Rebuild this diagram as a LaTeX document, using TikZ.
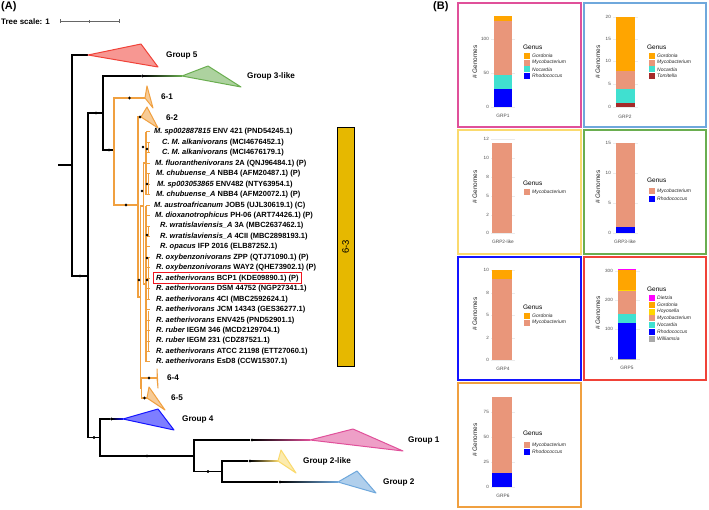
\documentclass[tikz,border=0pt]{standalone}
\usepackage{fontspec}
\setmainfont{Liberation Sans}
\usepackage{tikz}
\usetikzlibrary{positioning,fit}
\definecolor{grpred}{RGB}{240,66,56}
\definecolor{grpgreen}{RGB}{106,174,80}
\definecolor{grporange}{RGB}{240,160,64}
\definecolor{grpblue}{RGB}{20,20,255}
\definecolor{grppink}{RGB}{224,80,154}
\definecolor{grpyellow}{RGB}{250,218,110}
\definecolor{grpsky}{RGB}{111,168,220}
\definecolor{barbox}{RGB}{230,184,0}
\definecolor{hibox}{RGB}{240,20,30}
\definecolor{gordonia}{RGB}{255,165,0}
\definecolor{mycobact}{RGB}{233,150,122}
\definecolor{nocardia}{RGB}{64,224,208}
\definecolor{rhodococ}{RGB}{0,0,255}
\definecolor{tomitella}{RGB}{165,42,42}
\definecolor{dietzia}{RGB}{255,0,255}
\definecolor{hoyosella}{RGB}{255,215,0}
\definecolor{williams}{RGB}{169,169,169}

\begin{document}
\begin{tikzpicture}[x=1bp,y=-1bp,
    branch/.style={line width=1.3bp},
    obranch/.style={branch,draw=grporange},
    clade/.style={draw=#1,fill=#1!55,line width=1bp,line join=round},
    knot/.style={circle,fill=black,inner sep=0pt,minimum size=2.8bp},
    grplab/.style={font=\fontsize{8.2}{9}\selectfont\bfseries,anchor=west,inner sep=0pt},
    leaflab/.style={font=\fontsize{7.5}{9}\selectfont\bfseries,anchor=west,inner sep=0pt},
    hilite/.style={draw=hibox,line width=1.3bp,fill=none,inner xsep=2.5bp,inner ysep=1.8bp},
    panel/.style={draw=#1,line width=2bp},
    ylab/.style={font=\fontsize{6.5}{7}\selectfont,rotate=90,text=black!85},
    ticklab/.style={font=\fontsize{4.6}{5}\selectfont,text=black!70,anchor=east,inner sep=0pt},
    xlab/.style={font=\fontsize{4.8}{5}\selectfont,text=black!70,inner sep=0pt},
    gtitle/.style={font=\fontsize{6.5}{7}\selectfont,anchor=west,inner sep=0pt},
    glab/.style={font=\fontsize{5}{6}\selectfont\itshape,anchor=west,inner sep=0pt,text=black!85},
    gridln/.style={draw=black!8,line width=0.4bp}]
  \useasboundingbox (0,0) rectangle (709,510);

  \node[font=\fontsize{11}{12}\selectfont\bfseries,anchor=west,inner sep=0pt] (hA) at (1,7) {(A)};
  \node[font=\fontsize{8}{9}\selectfont\bfseries,anchor=west,inner sep=0pt] (scl) at (1,21.5) {Tree scale: 1};
  \coordinate (s0) at (60,21.5);
  \coordinate (sm) at (89.5,21.5);
  \coordinate (s1) at (119,21.5);
  \draw[black!60,line width=0.6bp] (s0) -- (s1)
    (s0) ++(0,-2) -- ++(0,4) (s1) ++(0,-2) -- ++(0,4) (sm) ++(0,-1.5) -- ++(0,3);

  % tree
  \coordinate (stem) at (58,165);
  \coordinate (root) at (72,165);
  \coordinate (nA) at (88,276);
  \coordinate (nB) at (103,113);
  \coordinate (nC) at (100,437.5);
  \coordinate (nD) at (194,456);
  \coordinate (nE) at (222,471.5);
  \coordinate (nO) at (114,150);
  \coordinate (nP) at (138,205);
  \coordinate (nQ) at (140.5,297);
  \coordinate (nS) at (141.5,388);
  \coordinate (n6a) at (146,163);
  \coordinate (n6b) at (146,284);
  \coordinate (n63) at (143.5,206);
  \coordinate (g5) at (88,55);
  \coordinate (g3) at (182,76);
  \coordinate (g4) at (123,419);
  \coordinate (g1) at (310,440);
  \coordinate (g2l) at (278,461);
  \coordinate (g2) at (338,482);
  \coordinate (n61) at (145,98);
  \coordinate (n62) at (141,117);
  \coordinate (n64) at (157,378);
  \coordinate (n65) at (147,398);

  \node[knot] (dA) at (80,276) {};
  \node[knot] (d3) at (142.5,76) {};
  \node[knot] (dB) at (96,113) {};
  \node[knot] (dO) at (109,150) {};
  \node[knot] (dC) at (94,437.5) {};
  \node[knot] (d4) at (111.5,419) {};
  \node[knot] (dD) at (147,456) {};
  \node[knot] (d1) at (252,440) {};
  \node[knot] (dE) at (208,471.5) {};
  \node[knot] (d2l) at (250,461) {};
  \node[knot] (d2) at (280,482) {};
  \node[knot] (d61) at (129.5,98) {};
  \node[knot] (dP) at (126,205) {};
  \node[knot] (d62) at (140,117) {};
  \node[knot] (d64) at (149,378) {};
  \node[knot] (d65) at (144.5,398) {};

  \draw[branch] (stem) -- (root);
  \draw[branch] (root) |- (g5);
  \draw[branch] (root) |- (nA);
  \draw[branch] (nA) |- (nB);
  \draw[branch] (nA) |- (nC);
  \draw[branch] (nB) |- (d3);
  \draw[branch] (nB) |- (nO);
  \draw[branch] (nC) |- (d4);
  \draw[branch] (nC) |- (nD);
  \draw[branch] (nD) |- (d1);
  \draw[branch] (nD) |- (nE);
  \draw[branch] (nE) |- (d2l);
  \draw[branch] (nE) |- (d2);
  \shade[left color=black,right color=grpgreen] ([yshift=-0.65bp]d3.center) rectangle ([yshift=0.65bp]g3);
  \shade[left color=black,right color=grpblue] ([yshift=-0.65bp]d4.center) rectangle ([yshift=0.65bp]g4);
  \shade[left color=black,right color=grppink] ([yshift=-0.65bp]d1.center) rectangle ([yshift=0.65bp]g1);
  \shade[left color=black,right color=grpyellow] ([yshift=-0.65bp]d2l.center) rectangle ([yshift=0.65bp]g2l);
  \shade[left color=black,right color=grpsky] ([yshift=-0.65bp]d2.center) rectangle ([yshift=0.65bp]g2);

  \draw[obranch] (nO) |- (n61);
  \draw[obranch] (nO) |- (nP);
  \draw[obranch] (nP) |- (n62);
  \draw[obranch] (nP) |- (nQ);
  \draw[obranch] (nQ) |- (n63);
  \draw[obranch] (nQ) |- (nS);
  \draw[obranch] (nS) |- (n64);
  \draw[obranch] (nS) |- (n65);
  \draw[obranch] (n63) |- (n6a);
  \draw[obranch] (n63) |- (n6b);
  \draw[obranch] (146,132) -- (146,195) (146,206) -- (146,362);
  \draw[obranch,line width=1bp] (148.5,143) -- (148.5,153) (148.5,174) -- (148.5,195)
    (148.5,227) -- (148.5,237) (148.5,258) -- (148.5,300) (148.5,311) -- (148.5,352);
  \foreach \i in {1,...,23}
    \draw[obranch,line width=1bp] (146,121.55+10.45*\i) -- (150,121.55+10.45*\i);

  \filldraw[clade=grpred] (g5) -- (141,44) -- (158,67) -- cycle;
  \filldraw[clade=grpgreen] (g3) -- (208,66) -- (241,87) -- cycle;
  \filldraw[clade=grpblue] (g4) -- (158,409) -- (174,430) -- cycle;
  \filldraw[clade=grppink] (g1) -- (353,429) -- (403,451) -- cycle;
  \filldraw[clade=grpyellow] (g2l) -- (281,450) -- (296,473) -- cycle;
  \filldraw[clade=grpsky] (g2) -- (357,471) -- (376,493) -- cycle;
  \filldraw[clade=grporange] (n61) -- (147,86) -- (153,108) -- cycle;
  \filldraw[clade=grporange] (n62) -- (147,107) -- (158,128) -- cycle;
  \filldraw[clade=grporange] (n64) -- (157,369) -- (158,388) -- cycle;
  \filldraw[clade=grporange] (n65) -- (149,387) -- (165,410) -- cycle;

  \foreach \k in {dA,d3,dB,dO,dC,d4,dD,d1,dE,d2l,d2,d61,dP,d62,d64,d65}
    \fill (\k) circle (1.4bp);
  \foreach \x/\y in {143/147,147/149,147/184,142/191,147/235,147/258,139/280,147/280}
    \fill (\x,\y) circle (1.3bp);

  \node[grplab] (l5) at (166,55) {Group 5};
  \node[grplab] (l3) at (247,76) {Group 3-like};
  \node[grplab] (l61) at (161,97) {6-1};
  \node[grplab] (l62) at (166,118) {6-2};
  \node[grplab] (l64) at (167,378) {6-4};
  \node[grplab] (l65) at (171,398) {6-5};
  \node[grplab] (l4) at (182,419) {Group 4};
  \node[grplab] (l1) at (408,440) {Group 1};
  \node[grplab] (l2l) at (303,461) {Group 2-like};
  \node[grplab] (l2) at (383,482) {Group 2};

  \foreach \sp/\rest/\lx [count=\i] in {
      {M. sp002887815}/{ENV 421 (PND54245.1)}/154,
      {C. M. alkanivorans}/{(MCI4676452.1)}/162,
      {C. M. alkanivorans}/{(MCI4676179.1)}/162,
      {M. fluoranthenivorans}/{2A (QNJ96484.1) (P)}/155,
      {M. chubuense\_A}/{NBB4 (AFM20487.1) (P)}/156,
      {M. sp003053865}/{ENV482 (NTY63954.1)}/157,
      {M. chubuense\_A}/{NBB4 (AFM20072.1) (P)}/156,
      {M. austroafricanum}/{JOB5 (UJL30619.1) (C)}/154,
      {M. dioxanotrophicus}/{PH-06 (ART74426.1) (P)}/155,
      {R. wratislaviensis\_A}/{3A (MBC2637462.1)}/160,
      {R. wratislaviensis\_A}/{4CII (MBC2898193.1)}/160,
      {R. opacus}/{IFP 2016 (ELB87252.1)}/160,
      {R. oxybenzonivorans}/{ZPP (QTJ71090.1) (P)}/156,
      {R. oxybenzonivorans}/{WAY2 (QHE73902.1) (P)}/156,
      {R. aetherivorans}/{BCP1 (KDE09890.1) (P)}/156,
      {R. aetherivorans}/{DSM 44752 (NGP27341.1)}/156,
      {R. aetherivorans}/{4CI (MBC2592624.1)}/156,
      {R. aetherivorans}/{JCM 14343 (GES36277.1)}/156,
      {R. aetherivorans}/{ENV425 (PND52901.1)}/156,
      {R. ruber}/{IEGM 346 (MCD2129704.1)}/156,
      {R. ruber}/{IEGM 231 (CDZ87521.1)}/156,
      {R. aetherivorans}/{ATCC 21198 (ETT27060.1)}/156,
      {R. aetherivorans}/{EsD8 (CCW15307.1)}/156}
    \node[leaflab] (leaf\i) at (\lx,121.55+10.45*\i) {{\itshape\sp} \rest};
  \node[hilite,fit=(leaf15)] (box15) {};

  \node[draw=black,fill=barbox,line width=0.8bp,minimum width=17bp,minimum height=239bp,inner sep=0pt] (b63) at (345.5,247) {};
  \node[rotate=90,font=\fontsize{9.5}{10}\selectfont] (t63) at (b63.center) {6-3};

  % panels
  \node[font=\fontsize{11}{12}\selectfont\bfseries,anchor=west,inner sep=0pt] (hB) at (433,7) {(B)};

  \draw[panel=grppink] (458,3) rectangle (581,127);
  \foreach \v/\y in {0/107,50/73,100/39} {
    \draw[gridln] (491,\y) -- (515,\y);
    \node[ticklab] (ta\v) at (489,\y) {\v};}
  \foreach \a/\b/\c in {107/89/rhodococ,89/75/nocardia,75/21/mycobact,21/16/gordonia}
    \fill[\c] (494,\a) rectangle (512,\b);
  \node[ylab] (ya) at (475,62) {\# Genomes};
  \node[xlab] (xa) at (503,116) {GRP1};
  \node[gtitle] (ga) at (523,47) {Genus};
  \foreach \c/\t [count=\k] in {gordonia/Gordonia,mycobact/Mycobacterium,nocardia/Nocardia,rhodococ/Rhodococcus} {
    \fill[\c] (524,46.3+6.7*\k) rectangle (530,52.3+6.7*\k);
    \node[glab] (ka\k) at (532,49.3+6.7*\k) {\t};}

  \draw[panel=grpsky] (584,3) rectangle (706,127);
  \foreach \v/\y in {0/107,5/84,10/61,15/39,20/17} {
    \draw[gridln] (613,\y) -- (638,\y);
    \node[ticklab] (tb\v) at (611,\y) {\v};}
  \foreach \a/\b/\c in {107/103/tomitella,103/89/nocardia,89/71/mycobact,71/17/gordonia}
    \fill[\c] (616,\a) rectangle (635,\b);
  \node[ylab] (yb) at (598,62) {\# Genomes};
  \node[xlab] (xb) at (625,117) {GRP2};
  \node[gtitle] (gb) at (647,47) {Genus};
  \foreach \c/\t [count=\k] in {gordonia/Gordonia,mycobact/Mycobacterium,nocardia/Nocardia,tomitella/Tomitella} {
    \fill[\c] (649,46.3+6.7*\k) rectangle (655,52.3+6.7*\k);
    \node[glab] (kb\k) at (657,49.3+6.7*\k) {\t};}

  \draw[panel=grpyellow] (458,130) rectangle (581,254);
  \foreach \v/\y in {0/233,2/215,5/196,8/177,10/158,12/139} {
    \draw[gridln] (491,\y) -- (515,\y);
    \node[ticklab] (tc\v) at (489,\y) {\v};}
  \fill[mycobact] (492,233) rectangle (512,143);
  \node[ylab] (yc) at (475,187) {\# Genomes};
  \node[xlab] (xc) at (503,242) {GRP2-like};
  \node[gtitle] (gc) at (523,183) {Genus};
  \fill[mycobact] (524,189) rectangle (530,195);
  \node[glab] (kc1) at (532,192) {Mycobacterium};

  \draw[panel=grpgreen] (584,130) rectangle (706,254);
  \foreach \v/\y in {0/233,5/203,10/173,15/143} {
    \draw[gridln] (613,\y) -- (638,\y);
    \node[ticklab] (td\v) at (611,\y) {\v};}
  \fill[rhodococ] (616,233) rectangle (635,227);
  \fill[mycobact] (616,227) rectangle (635,143);
  \node[ylab] (yd) at (598,187) {\# Genomes};
  \node[xlab] (xd) at (625,242) {GRP3-like};
  \node[gtitle] (gd) at (647,180) {Genus};
  \foreach \c/\t [count=\k] in {mycobact/Mycobacterium,rhodococ/Rhodococcus} {
    \fill[\c] (649,181+7.5*\k) rectangle (655,187+7.5*\k);
    \node[glab] (kd\k) at (657,184+7.5*\k) {\t};}

  \draw[panel=grpblue] (458,257) rectangle (581,380);
  \foreach \v/\y in {0/360,2/338,5/315,8/293,10/270} {
    \draw[gridln] (491,\y) -- (515,\y);
    \node[ticklab] (te\v) at (489,\y) {\v};}
  \fill[mycobact] (492,360) rectangle (512,279);
  \fill[gordonia] (492,279) rectangle (512,270);
  \node[ylab] (ye) at (475,314) {\# Genomes};
  \node[xlab] (xe) at (503,369) {GRP4};
  \node[gtitle] (ge) at (523,307) {Genus};
  \foreach \c/\t [count=\k] in {gordonia/Gordonia,mycobact/Mycobacterium} {
    \fill[\c] (524,305.5+7*\k) rectangle (530,311.5+7*\k);
    \node[glab] (ke\k) at (532,308.5+7*\k) {\t};}

  \draw[panel=grpred] (584,257) rectangle (706,380);
  \foreach \v/\y in {0/359,100/329,200/300,300/271} {
    \draw[gridln] (615,\y) -- (640,\y);
    \node[ticklab] (tf\v) at (613,\y) {\v};}
  \foreach \a/\b/\c in {359/358.6/williams,358.6/323/rhodococ,323/314/nocardia,314/290/mycobact,290/289.6/hoyosella,289.6/269.4/gordonia,269.4/269/dietzia}
    \fill[\c] (618,\a) rectangle (636,\b);
  \node[ylab] (yf) at (598,313) {\# Genomes};
  \node[xlab] (xf) at (627,368) {GRP5};
  \node[gtitle] (gf) at (647,289) {Genus};
  \foreach \c/\t [count=\k] in {dietzia/Dietzia,gordonia/Gordonia,hoyosella/Hoyosella,mycobact/Mycobacterium,nocardia/Nocardia,rhodococ/Rhodococcus,williams/Williamsia} {
    \fill[\c] (649,288.2+6.8*\k) rectangle (655,294.2+6.8*\k);
    \node[glab] (kf\k) at (657,291.2+6.8*\k) {\t};}

  \draw[panel=grporange] (458,383) rectangle (581,507);
  \foreach \v/\y in {0/487,25/462,50/437,75/412} {
    \draw[gridln] (491,\y) -- (515,\y);
    \node[ticklab] (tg\v) at (489,\y) {\v};}
  \fill[rhodococ] (492,487) rectangle (512,473);
  \fill[mycobact] (492,473) rectangle (512,397);
  \node[ylab] (yg) at (475,440) {\# Genomes};
  \node[xlab] (xg) at (503,496) {GRP6};
  \node[gtitle] (gg) at (523,433) {Genus};
  \foreach \c/\t [count=\k] in {mycobact/Mycobacterium,rhodococ/Rhodococcus} {
    \fill[\c] (524,435+7*\k) rectangle (530,441+7*\k);
    \node[glab] (kg\k) at (532,438+7*\k) {\t};}
\end{tikzpicture}
\end{document}
